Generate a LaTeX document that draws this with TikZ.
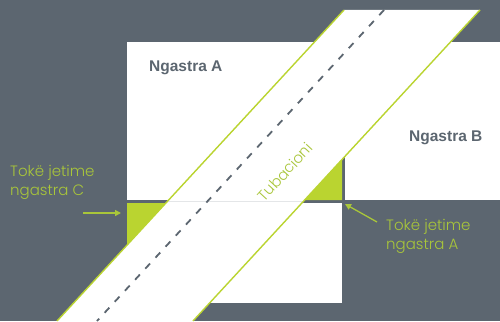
\documentclass[tikz,border=0pt]{standalone}
\usepackage{fontspec}
\setmainfont{Liberation Sans}
\IfFontExistsTF{Poppins Light}{\newfontfamily\lblfont{Poppins Light}}{\newfontfamily\lblfont{Poppins}}
\usetikzlibrary{arrows.meta}
\definecolor{bg}{HTML}{5C6670}
\definecolor{lime}{HTML}{BAD430}
\definecolor{limetxt}{HTML}{A9C63A}
\definecolor{thinline}{HTML}{E4E6E8}
\begin{document}
\begin{tikzpicture}[x=1pt,y=-1pt,
  edge/.style={draw=lime,line width=1.4pt},
  axis/.style={draw=bg,line width=1.8pt,dash pattern=on 7pt off 8pt},
  plotname/.style={font=\bfseries\fontsize{15.5}{17}\selectfont,text=bg,inner sep=0pt,anchor=base west},
  lbl/.style={font=\lblfont\fontsize{15}{19}\selectfont,text=limetxt,inner sep=0pt,anchor=base west,align=left},
  pointer/.style={draw=limetxt,line width=1.3pt,-{Triangle[length=6pt,width=6pt]}}]
\useasboundingbox (0,0) rectangle (500,321);
\fill[bg] (0,0) rectangle (500,321);
% plots
\fill[white] (127,42) rectangle (342,200);
\fill[white] (345,42) rectangle (500,200);
\fill[white] (127,203) rectangle (342,303);
% orphan land triangles
\fill[lime] (127,203) -- (165.9,203) -- (127,245.1) -- cycle;
\fill[lime] (342,159.5) -- (342,200) -- (304.7,200) -- cycle;
% pipe
\coordinate (p1) at (344,10);
\coordinate (p2) at (480,10);
\coordinate (p3) at (193,321);
\coordinate (p4) at (57,321);
\coordinate (c1) at (384,10);
\coordinate (c2) at (97,321);
\fill[white] (p1) -- (p2) -- (p3) -- (p4) -- cycle;
\begin{scope}
\clip (p1) -- (p2) -- (p3) -- (p4) -- cycle;
\draw[thinline,line width=1pt] (100,201.5) -- (400,201.5);
\end{scope}
\draw[axis] (c1) -- (c2);
\draw[edge] (p1) -- (p4);
\draw[edge] (p2) -- (p3);
% labels
\node[plotname] (na) at (149,71) {Ngastra A};
\node[plotname] (nb) at (409,141) {Ngastra B};
\node[font=\lblfont\fontsize{15}{17}\selectfont,text=limetxt,rotate=47.3,inner sep=0pt] (tub) at (285,172) {Tubacioni};
\node[lbl] (lc) at (10,195) {Tokë jetime\\ngastra C};
\node[lbl] (la) at (386,249) {Tokë jetime\\ngastra A};
\coordinate (ac1) at (83,213);
\coordinate (ac2) at (121,213);
\coordinate (aa1) at (377,222);
\coordinate (aa2) at (345,204);
\draw[pointer] (ac1) -- (ac2);
\draw[pointer] (aa1) -- (aa2);
\end{tikzpicture}
\end{document}
